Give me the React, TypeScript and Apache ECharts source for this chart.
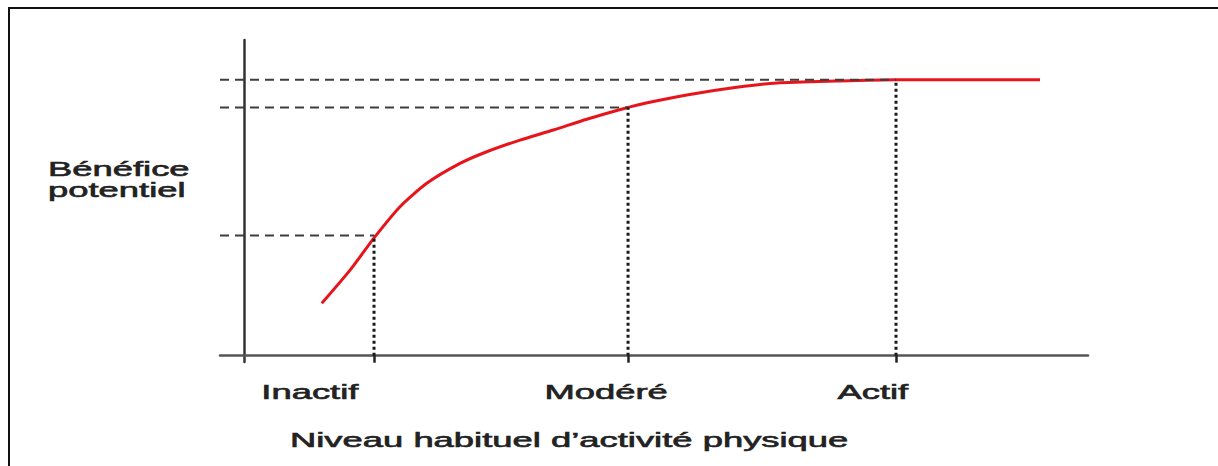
import React, { useEffect, useRef } from "react";
import * as echarts from "echarts";

// Activity levels (x axis categories placed on a continuous activity scale)
const levelNames = ["Inactif", "Modéré", "Actif"];
const levelX = [15.4, 45.5, 77.25];
const levelBenefit = [38.1, 78.6, 87.4];
const labelAnchorX = [7.8, 42.9, 74.5];

// Benefit curve
const curveX = [9.21, 12.56, 15.52, 18.48, 21.65, 25.59, 28.76, 32.7, 36.65, 40.61, 45.15, 48.5, 52.46, 58.38, 63.15, 70.14, 77.25, 85.8, 94.31];
const curveY = [16.6, 27.1, 37.7, 47.2, 54.6, 60.9, 64.6, 68.3, 71.5, 74.9, 78.4, 80.5, 82.6, 85.0, 86.4, 87.0, 87.4, 87.4, 87.4];

const X_MIN = -2.85;
const X_MAX = 100;
const Y_MIN = -2;
const Y_MAX = 100;

const yAxisTitle = "Bénéfice\npotentiel";
const xAxisTitle = "Niveau habituel d’activité physique";

const FONT = "'Liberation Sans', Arial, sans-serif";
const SX = 1.82;

export default function App() {
  const ref = useRef<HTMLDivElement>(null);
  useEffect(() => {
    if (!ref.current) return;
    const chart = echarts.init(ref.current, undefined, { renderer: "svg" });
    const series: any[] = [];
    series.push({
      type: "line",
      data: curveX.map((x, i) => [x, curveY[i]]),
      smooth: 0.22,
      showSymbol: false,
      symbol: "none",
      lineStyle: { color: "#e8141c", width: 3 },
      z: 2,
      silent: true,
    });
    levelX.forEach((x, i) => {
      series.push({
        type: "line",
        data: [
          [X_MIN, levelBenefit[i]],
          [x, levelBenefit[i]],
        ],
        symbol: "none",
        lineStyle: { color: "#3d3d3d", width: 2, type: [9, 6] },
        z: 3,
        silent: true,
      });
      series.push({
        type: "line",
        data: [
          [x, 0],
          [x, levelBenefit[i]],
        ],
        symbol: "none",
        lineStyle: { color: "#1a1a1a", width: 3, type: [3, 3] },
        z: 3,
        silent: true,
      });
    });
    chart.setOption({
      animation: false,
      backgroundColor: "#fff",
      grid: { left: 220, right: 130, top: 40, bottom: 104 },
      xAxis: {
        type: "value",
        min: X_MIN,
        max: X_MAX,
        axisLine: { onZero: true, lineStyle: { color: "#555", width: 2.5 } },
        axisTick: { show: true, customValues: levelX, length: 7, lineStyle: { color: "#222", width: 2.5 } },
        axisLabel: { show: false },
        splitLine: { show: false },
      },
      yAxis: {
        type: "value",
        min: Y_MIN,
        max: Y_MAX,
        axisLine: { show: true, onZero: true, lineStyle: { color: "#333", width: 2.5 } },
        axisTick: { show: false },
        axisLabel: { show: false },
        splitLine: { show: false },
      },
      series,
    });
    const base = chart.convertToPixel({ gridIndex: 0 }, [0, 0]) as number[];
    const textStyle = { font: `20px ${FONT}`, fill: "#222", stroke: "#222", lineWidth: 0.6 };
    const graphics: any[] = [
      { type: "line", shape: { x1: 9, y1: 8, x2: 9, y2: 466 }, style: { stroke: "#111", lineWidth: 2 } },
      { type: "line", shape: { x1: 8, y1: 8, x2: 1218, y2: 8 }, style: { stroke: "#111", lineWidth: 2 } },
      {
        type: "text",
        x: 48,
        y: 179,
        scaleX: SX,
        style: { ...textStyle, text: yAxisTitle, textAlign: "left", textVerticalAlign: "middle", lineHeight: 21 },
      },
      {
        type: "text",
        x: 290,
        y: base[1] + 84,
        scaleX: SX,
        style: { ...textStyle, text: xAxisTitle, textAlign: "left", textVerticalAlign: "middle" },
      },
    ];
    levelNames.forEach((name, i) => {
      const p = chart.convertToPixel({ gridIndex: 0 }, [labelAnchorX[i], 0]) as number[];
      graphics.push({
        type: "text",
        x: p[0],
        y: p[1] + 36,
        scaleX: SX,
        style: { ...textStyle, text: name, textAlign: "center", textVerticalAlign: "middle" },
      });
    });
    chart.setOption({ graphic: graphics });
    return () => chart.dispose();
  }, []);
  return <div ref={ref} style={{ position: "fixed", left: 0, top: 0, width: 1218, height: 466 }} />;
}
